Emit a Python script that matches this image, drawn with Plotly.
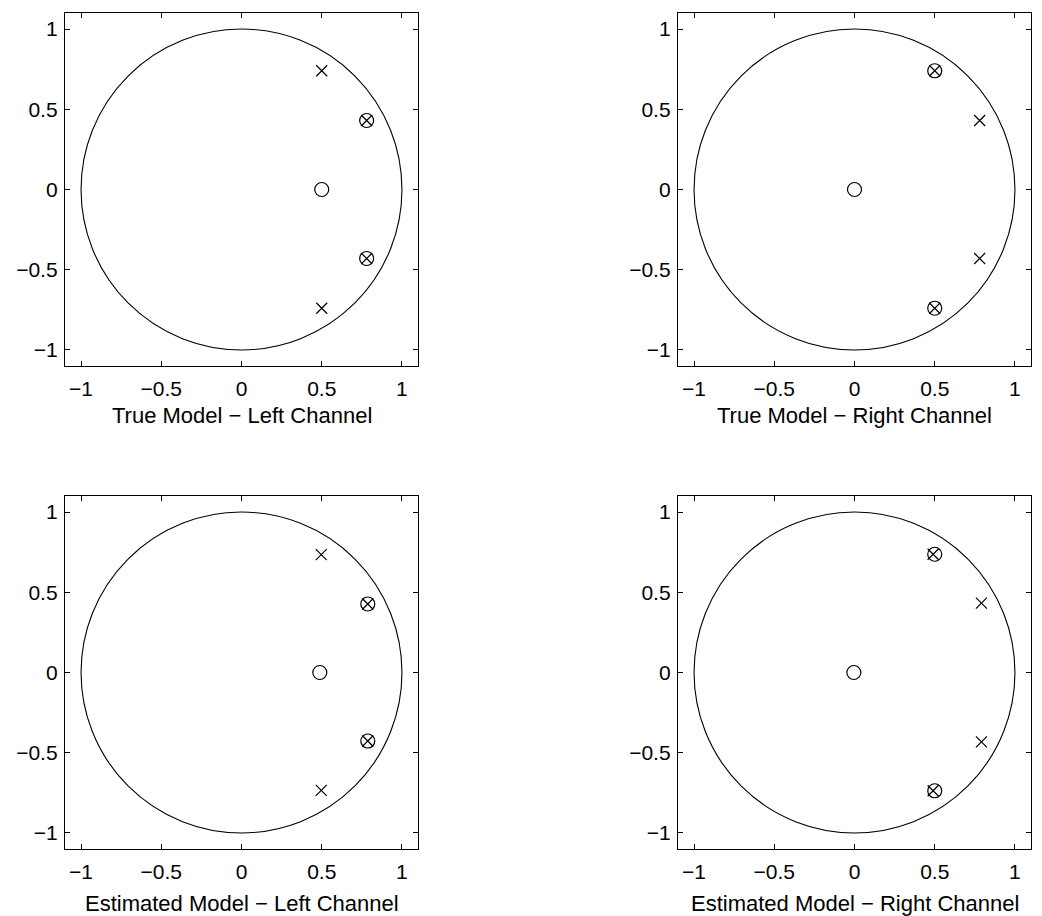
import plotly.graph_objects as go

# Panel titles (x-axis labels)
titles = ["True Model \u2212 Left Channel", "True Model \u2212 Right Channel",
          "Estimated Model \u2212 Left Channel", "Estimated Model \u2212 Right Channel"]

# Zeros (o) and poles (x) per panel: real, imag
tl_zero_re = [0.50, 0.78, 0.78]
tl_zero_im = [0.00, 0.43, -0.43]
tl_pole_re = [0.50, 0.50, 0.78, 0.78]
tl_pole_im = [0.74, -0.74, 0.43, -0.43]

tr_zero_re = [0.00, 0.50, 0.50]
tr_zero_im = [0.00, 0.74, -0.74]
tr_pole_re = [0.78, 0.78, 0.50, 0.50]
tr_pole_im = [0.43, -0.43, 0.74, -0.74]

bl_zero_re = [0.488, 0.787, 0.787]
bl_zero_im = [0.00, 0.427, -0.427]
bl_pole_re = [0.497, 0.497, 0.787, 0.787]
bl_pole_im = [0.735, -0.735, 0.427, -0.427]

br_zero_re = [-0.004, 0.50, 0.50]
br_zero_im = [0.00, 0.737, -0.737]
br_pole_re = [0.791, 0.791, 0.49, 0.49]
br_pole_im = [0.432, -0.432, 0.737, -0.737]

tick_vals = [-1, -0.5, 0, 0.5, 1]
tick_text = ["\u22121", "\u22120.5", "0", "0.5", "1"]

panels = [
    (tl_zero_re, tl_zero_im, tl_pole_re, tl_pole_im),
    (tr_zero_re, tr_zero_im, tr_pole_re, tr_pole_im),
    (bl_zero_re, bl_zero_im, bl_pole_re, bl_pole_im),
    (br_zero_re, br_zero_im, br_pole_re, br_pole_im),
]

OFF = 8  # default page body margin
W, H = 1042 - 2 * OFF, 916 - OFF
xdoms = [[(65 - OFF) / W, (418 - OFF) / W], [(678 - OFF) / W, (1031 - OFF) / W]]
ydoms = [[1 - (366 - OFF) / H, 1 - (13 - OFF) / H], [1 - (849 - OFF) / H, 1 - (496 - OFF) / H]]
title_y = [1 - (416 - OFF) / H, 1 - (903 - OFF) / H]

fig = go.Figure()
FAM = "Liberation Sans, Arial, Helvetica, sans-serif"
font = dict(family=FAM, size=21, color="black")
tfont = dict(family=FAM, size=22, color="black")

for i, (zr, zi, pr, pi) in enumerate(panels):
    n = "" if i == 0 else str(i + 1)
    xa, ya = "x" + n, "y" + n
    fig.add_trace(go.Scatter(x=zr, y=zi, mode="markers", xaxis=xa, yaxis=ya,
                             marker=dict(symbol="circle-open", size=14, color="black",
                                         line=dict(width=1.2, color="black")),
                             showlegend=False, hoverinfo="skip"))
    fig.add_trace(go.Scatter(x=pr, y=pi, mode="markers", xaxis=xa, yaxis=ya,
                             marker=dict(symbol="x-thin-open", size=11, color="black",
                                         line=dict(width=1.2, color="black")),
                             showlegend=False, hoverinfo="skip"))
    fig.add_shape(type="circle", xref=xa, yref=ya, x0=-1, y0=-1, x1=1, y1=1,
                  line=dict(color="black", width=1.1), layer="below")
    col, row = i % 2, i // 2
    axcommon = dict(range=[-1.1, 1.1], tickvals=tick_vals, ticktext=tick_text,
                    ticks="inside", ticklen=5, tickwidth=1, tickcolor="black",
                    showline=True, linecolor="black", linewidth=1.3, mirror="ticks",
                    showgrid=False, zeroline=False, tickfont=font, automargin=False)
    fig.update_layout(**{
        ("xaxis" + n): dict(domain=xdoms[col], anchor=ya, ticklabelstandoff=4, **axcommon),
        ("yaxis" + n): dict(domain=ydoms[row], anchor=xa, ticklabelstandoff=2, **axcommon),
    })
    fig.add_annotation(text=titles[i], xref=xa + " domain", yref="paper",
                       x=0.5, y=title_y[row], xanchor="center", yanchor="middle",
                       showarrow=False, font=tfont)

fig.update_layout(width=W, height=H, margin=dict(l=0, r=0, t=0, b=0),
                  paper_bgcolor="white", plot_bgcolor="white", showlegend=False)
fig.write_html("out.html")
